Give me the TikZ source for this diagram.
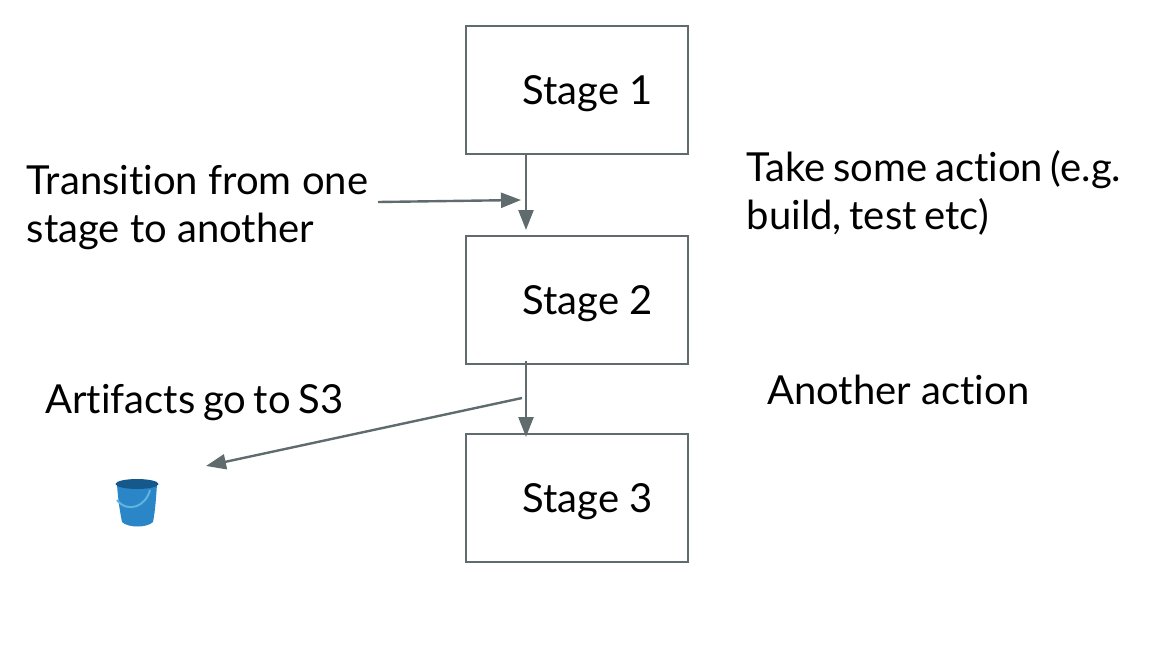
\documentclass[tikz,border=0pt]{standalone}
\usepackage{fontspec}
\setmainfont{Lato}[Ligatures=NoCommon]
\newfontfamily\tightfont{Lato}[Ligatures=NoCommon, WordSpace=0.75]
\usetikzlibrary{positioning, arrows.meta, calc}
\definecolor{linegray}{HTML}{5F6B6D}
\definecolor{bucketblue}{HTML}{2B86C8}
\definecolor{bucketdark}{HTML}{15598C}
\definecolor{bucketlight}{HTML}{5FB4E0}
\tikzset{
    stagebox/.style={draw=linegray, line width=2pt, minimum width=222pt, minimum height=128pt, inner sep=0pt},
    stagetext/.style={font=\fontsize{40}{40}\selectfont, text=black, anchor=base west, inner sep=0pt},
    note/.style={font=\fontsize{40}{48}\selectfont, text=black, anchor=base west, align=left, inner sep=0pt},
    tightnote/.style={note, font=\tightfont\fontsize{40}{48}\selectfont},
    flow/.style={draw=linegray, line width=2.4pt, -{Triangle[length=20pt, width=15pt]}}
}
\begin{document}
\begin{tikzpicture}[x=1pt, y=-1pt]
    \useasboundingbox (0,0) rectangle (1176,670);

    % Stages
    \node[stagebox] (stageA) at (577, 90) {};
    \node[stagebox] (stageB) at (577, 300) {};
    \node[stagebox] (stageC) at (577, 498) {};
    \node[stagetext] (labelA) at (522.5, 104) {Stage 1};
    \node[stagetext] (labelB) at (522.5, 314) {Stage 2};
    \node[stagetext] (labelC) at (522.5, 512) {Stage 3};

    % Notes
    \node[note] (transition) at (26.5, 242) {Transition from one\\stage to another};
    \node[tightnote] (action) at (746.5, 229) {Take some action (e.g.\\build, test etc)};
    \node[note] (another) at (767, 404) {Another action};
    \node[tightnote] (artifacts) at (45, 413) {Artifacts go to S3};

    % Connector ends
    \coordinate (outA) at (526, 153);
    \coordinate (inB) at (526, 230);
    \coordinate (outB) at (526, 361);
    \coordinate (inC) at (526, 437);
    \coordinate (noteEnd) at (378, 202);
    \coordinate (noteTip) at (521, 200);
    \coordinate (artStart) at (522, 398);
    \coordinate (artTip) at (206, 466);

    % Arrows
    \draw[flow] (outA) -- (inB);
    \draw[flow] (outB) -- (inC);
    \draw[flow] (noteEnd) -- (noteTip);
    \draw[flow] (artStart) -- (artTip);

    % Bucket
    \fill[bucketblue] (117, 484) -- (157, 484) .. controls (156, 500) and (155, 512) .. (153, 522) .. controls (147, 528) and (128, 528) .. (122, 522) .. controls (120, 512) and (118, 500) .. (117, 484) -- cycle;
    \draw[bucketlight, line width=2pt] (117, 500) .. controls (128, 514) and (146, 506) .. (150, 490);
    \fill[bucketdark] (137, 484) ellipse [x radius=21.5, y radius=5];
\end{tikzpicture}
\end{document}
